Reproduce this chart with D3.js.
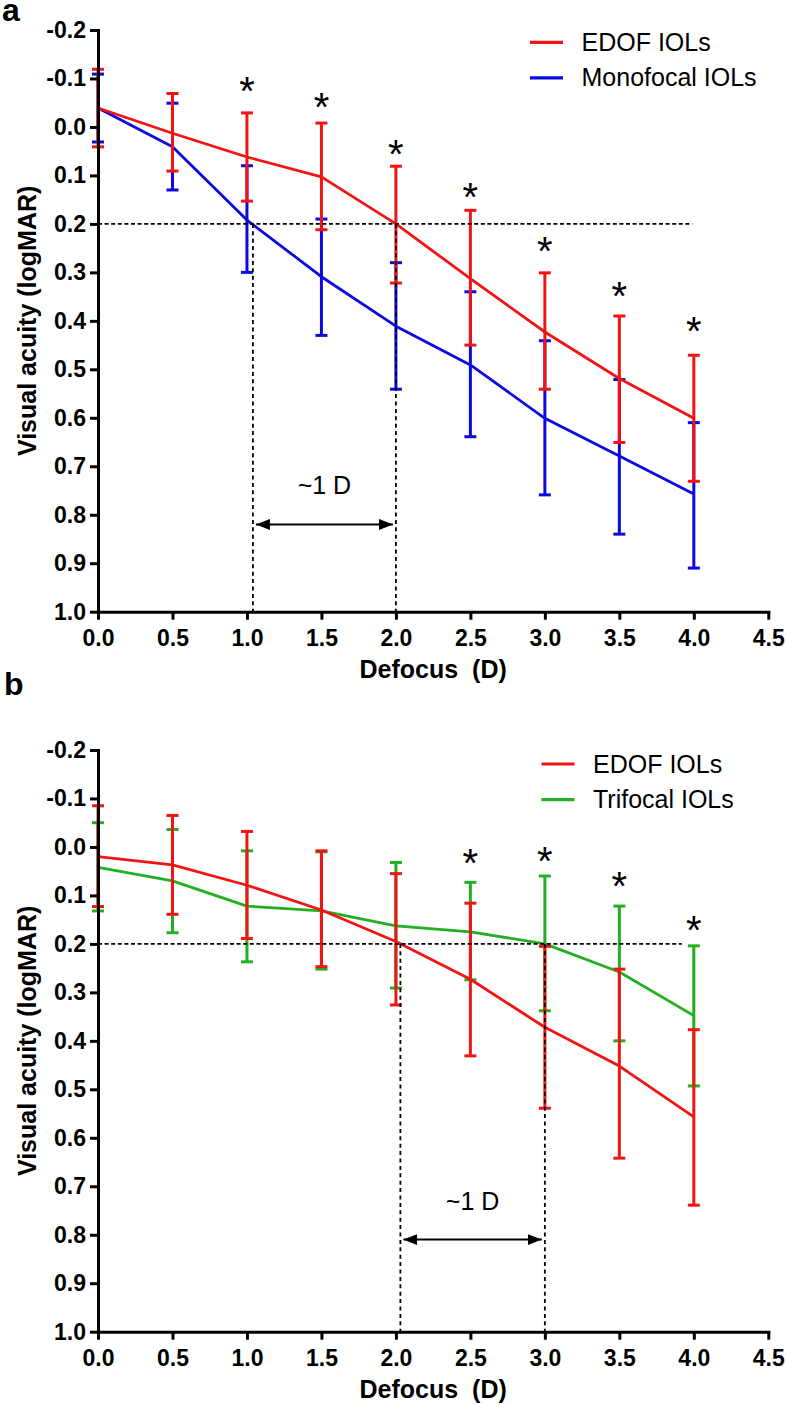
<!DOCTYPE html>
<html><head><meta charset="utf-8">
<script src="https://cdn.jsdelivr.net/npm/d3@7"></script>
<style>
body{margin:0;background:#fff}
svg{display:block}
text{font-family:"Liberation Sans",Arial,sans-serif}
</style>
</head><body>
<svg id="chart" width="787" height="1406"></svg>
<script>
// ---------- DATA ----------
const defocus = [0, 0.5, 1.0, 1.5, 2.0, 2.5, 3.0, 3.5, 4.0];
const xTicks = [0, 0.5, 1.0, 1.5, 2.0, 2.5, 3.0, 3.5, 4.0, 4.5];
const yTicks = [-0.2, -0.1, 0.0, 0.1, 0.2, 0.3, 0.4, 0.5, 0.6, 0.7, 0.8, 0.9, 1.0];

// Panel a
const edofA_mean = [-0.039, 0.013, 0.062, 0.103, 0.200, 0.313, 0.423, 0.519, 0.601];
const edofA_top  = [-0.119, -0.069, -0.029, -0.008, 0.081, 0.172, 0.301, 0.390, 0.471];
const edofA_bot  = [0.041, 0.091, 0.153, 0.212, 0.322, 0.450, 0.541, 0.651, 0.731];
const monoA_mean = [-0.039, 0.041, 0.192, 0.309, 0.411, 0.491, 0.601, 0.679, 0.757];
const monoA_top  = [-0.109, -0.049, 0.080, 0.190, 0.280, 0.340, 0.441, 0.521, 0.610];
const monoA_bot  = [0.031, 0.130, 0.300, 0.430, 0.541, 0.639, 0.759, 0.840, 0.910];
const starsA_x = [1.0, 1.5, 2.0, 2.5, 3.0, 3.5, 4.0];
const starsA_y = [-0.092, -0.059, 0.038, 0.126, 0.238, 0.331, 0.403];

// Panel b
const edofB_mean = [0.020, 0.037, 0.079, 0.130, 0.195, 0.273, 0.372, 0.452, 0.557];
const edofB_top  = [-0.085, -0.065, -0.032, 0.008, 0.055, 0.116, 0.205, 0.252, 0.377];
const edofB_bot  = [0.123, 0.139, 0.189, 0.247, 0.326, 0.431, 0.539, 0.642, 0.739];
const triB_mean  = [0.042, 0.070, 0.122, 0.132, 0.163, 0.175, 0.200, 0.258, 0.348];
const triB_top   = [-0.050, -0.036, 0.008, 0.010, 0.032, 0.073, 0.060, 0.122, 0.204];
const triB_bot   = [0.132, 0.177, 0.237, 0.252, 0.291, 0.274, 0.338, 0.400, 0.493];
const starsB_x = [2.5, 3.0, 3.5, 4.0];
const starsB_y = [0.015, 0.010, 0.063, 0.153];

// reference annotations (data units)
const refA = {hEnd: 3.99, v1: 1.04, v2: 2.0, arrowY: 0.82};
const refB = {hEnd: 3.92, v1: 2.03, v2: 3.0, arrowY: 0.81};

const RED = "#f21414", BLUE = "#0a0ae0", GREEN = "#22b022";

// ---------- DRAW ----------
const svg = d3.select("#chart");
const defs = svg.append("defs");
defs.append("marker").attr("id","ah").attr("viewBox","0 0 14 11")
  .attr("refX",14).attr("refY",5.5).attr("markerWidth",14).attr("markerHeight",11)
  .attr("markerUnits","userSpaceOnUse").attr("orient","auto-start-reverse")
  .append("path").attr("d","M0,0L14,5.5L0,11Z").attr("fill","#000");

function drawPanel(p) {
  const x = d3.scaleLinear().domain([0, 4.5]).range([98, 768.3]);
  const y = d3.scaleLinear().domain([-0.2, 1.0]).range([p.top, p.top + 581.7]);
  const g = svg.append("g");

  // series
  p.series.forEach(s => {
    const pts = defocus.map((d, i) => ({x: d, m: s.mean[i], t: s.top[i], b: s.bot[i]}));
    const sg = g.append("g");
    sg.selectAll("line.eb").data(pts).join("line")
      .attr("x1", d => x(d.x)).attr("x2", d => x(d.x))
      .attr("y1", d => y(d.t)).attr("y2", d => y(d.b))
      .attr("stroke", s.color).attr("stroke-width", 3);
    ["t","b"].forEach(k => {
      sg.selectAll("line.cap" + k).data(pts).join("line")
        .attr("x1", d => x(d.x) - 6).attr("x2", d => x(d.x) + 6)
        .attr("y1", d => y(d[k])).attr("y2", d => y(d[k]))
        .attr("stroke", s.color).attr("stroke-width", 3);
    });
    sg.append("path").datum(pts)
      .attr("d", d3.line().x(d => x(d.x)).y(d => y(d.m)))
      .attr("fill","none").attr("stroke", s.color).attr("stroke-width", 2.8)
      .attr("stroke-linejoin","round");
  });

  // dashed reference lines
  const r = p.ref;
  g.append("line").attr("x1", x(0)).attr("x2", x(r.hEnd)).attr("y1", y(0.2)).attr("y2", y(0.2))
    .attr("stroke","#000").attr("stroke-width",1.8).attr("stroke-dasharray","4,2.6");
  [r.v1, r.v2].forEach(v => {
    g.append("line").attr("x1", x(v)).attr("x2", x(v)).attr("y1", y(0.2)).attr("y2", y(1.0))
      .attr("stroke","#000").attr("stroke-width",1.8).attr("stroke-dasharray","4,3.4");
  });
  g.append("line").attr("x1", x(r.v1) + 3).attr("x2", x(r.v2) - 3)
    .attr("y1", y(r.arrowY)).attr("y2", y(r.arrowY))
    .attr("stroke","#000").attr("stroke-width",2)
    .attr("marker-start","url(#ah)").attr("marker-end","url(#ah)");
  g.append("text").attr("x", (x(r.v1) + x(r.v2)) / 2).attr("y", y(r.arrowY) - 30)
    .attr("text-anchor","middle").attr("font-size",25).text("~1 D");

  // stars
  g.selectAll("text.star").data(p.stars).join("text")
    .attr("x", d => x(d[0])).attr("y", d => y(d[1]) + 23)
    .attr("text-anchor","middle").attr("font-size",40).text("*");

  // axes
  const yAxis = d3.axisLeft(y).tickValues(yTicks).tickFormat(d => d.toFixed(1))
    .tickSize(8).tickSizeOuter(0).tickPadding(4);
  const xAxis = d3.axisBottom(x).tickValues(xTicks).tickFormat(d => d.toFixed(1))
    .tickSize(8).tickSizeOuter(0).tickPadding(10);
  const ya = g.append("g").attr("transform", `translate(${x(0)},0)`).call(yAxis);
  const xa = g.append("g").attr("transform", `translate(0,${y(1.0)})`).call(xAxis);
  [ya, xa].forEach(a => {
    a.select(".domain").attr("stroke","#000").attr("stroke-width",3).attr("stroke-linecap","square");
    a.selectAll(".tick line").attr("stroke","#000").attr("stroke-width",3);
    a.selectAll(".tick text").attr("fill","#000").attr("font-size",23).attr("font-weight","bold")
      .attr("font-family","'Liberation Sans',Arial,sans-serif");
  });

  // axis titles
  g.append("text").attr("x", (x(0) + x(4.5)) / 2).attr("y", y(1.0) + 66.6)
    .attr("text-anchor","middle").attr("font-size",25).attr("font-weight","bold")
    .style("white-space","pre").text("Defocus  (D)");
  g.append("text").attr("transform", `translate(36,${(y(-0.2) + y(1.0)) / 2}) rotate(-90)`)
    .attr("text-anchor","middle").attr("font-size",25).attr("font-weight","bold")
    .text("Visual acuity (logMAR)");

  // legend
  p.legend.forEach((l, i) => {
    const ly = p.legY + i * 35.6;
    g.append("line").attr("x1", p.legX).attr("x2", p.legX + 33).attr("y1", ly).attr("y2", ly)
      .attr("stroke", l.color).attr("stroke-width", 3.2);
    g.append("text").attr("x", p.legX + 51.5).attr("y", ly + 8.5).attr("font-size",25)
      .attr("fill","#000").text(l.name);
  });

  // panel letter
  g.append("text").attr("x", p.letterX).attr("y", p.letterY)
    .attr("font-family","'Liberation Serif','Times New Roman',serif")
    .attr("font-weight","bold").attr("font-size",32).text(p.letter);
}

drawPanel({
  top: 30, letter: "a", letterX: 2, letterY: 21,
  series: [
    {mean: monoA_mean, top: monoA_top, bot: monoA_bot, color: BLUE},
    {mean: edofA_mean, top: edofA_top, bot: edofA_bot, color: RED}
  ],
  stars: starsA_x.map((d, i) => [d, starsA_y[i]]),
  ref: refA,
  legX: 530, legY: 42.3,
  legend: [{name: "EDOF IOLs", color: RED}, {name: "Monofocal IOLs", color: BLUE}]
});
drawPanel({
  top: 750, letter: "b", letterX: 4, letterY: 695,
  series: [
    {mean: triB_mean, top: triB_top, bot: triB_bot, color: GREEN},
    {mean: edofB_mean, top: edofB_top, bot: edofB_bot, color: RED}
  ],
  stars: starsB_x.map((d, i) => [d, starsB_y[i]]),
  ref: refB,
  legX: 541.5, legY: 764,
  legend: [{name: "EDOF IOLs", color: RED}, {name: "Trifocal IOLs", color: GREEN}]
});
</script>
</body></html>
